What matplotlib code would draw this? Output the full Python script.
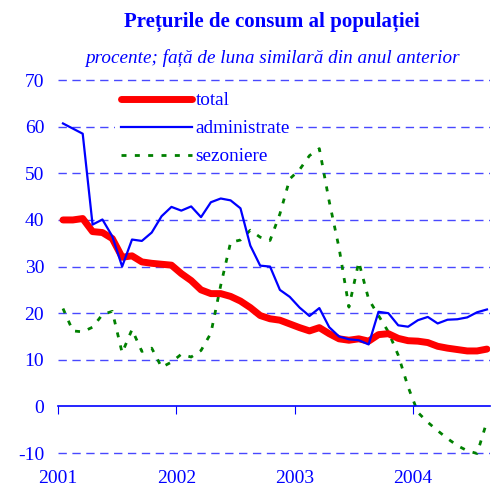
import pandas as pd
import matplotlib
matplotlib.use("Agg")
import matplotlib.pyplot as plt
import matplotlib.transforms as mtransforms

plt.rcParams["font.family"] = ["Liberation Serif", "DejaVu Serif"]
plt.rcParams["axes.unicode_minus"] = False

# monthly data, Jan 2001 - Aug 2004
months = pd.date_range("2001-01-01", periods=44, freq="MS")

total = [40.0, 40.0, 40.3, 37.5, 37.3, 36.0, 32.0, 32.3, 31.0, 30.7, 30.5, 30.3,
         28.5, 27.0, 25.0, 24.2, 24.2, 23.6, 22.6, 21.2, 19.5, 18.8, 18.5, 17.7,
         16.9, 16.2, 16.9, 15.6, 14.5, 14.2, 14.5, 14.0, 15.4, 15.6, 14.6, 14.1,
         14.0, 13.7, 12.9, 12.5, 12.2, 11.9, 11.9, 12.3]

administrate = [60.7, 59.6, 58.5, 39.0, 40.1, 36.5, 30.0, 35.8, 35.5, 37.3, 40.8, 42.8,
                42.0, 42.9, 40.6, 43.8, 44.6, 44.2, 42.5, 34.5, 30.2, 30.0, 25.0, 23.5,
                21.2, 19.4, 21.1, 17.0, 15.0, 14.4, 14.2, 13.3, 20.3, 20.0, 17.4, 17.1,
                18.5, 19.2, 17.8, 18.6, 18.7, 19.1, 20.2, 20.8]

sezoniere = [21.0, 16.2, 16.0, 17.0, 19.7, 20.4, 11.5, 16.5, 11.8, 12.5, 8.4, 9.5,
             11.2, 10.6, 12.0, 15.7, 26.0, 35.2, 35.7, 37.8, 36.3, 35.6, 41.3, 48.8,
             50.8, 53.8, 55.3, 44.0, 34.0, 21.3, 31.0, 23.0, 19.5, 16.0, 11.0, 4.2,
             -1.3, -3.4, -5.2, -6.9, -8.4, -9.5, -10.1, -3.2]

years = [2001, 2002, 2003, 2004]

x = [d.year + (d.month - 0.5) / 12 for d in months]

fig = plt.figure(figsize=(4.92, 4.86), dpi=100)
ax = fig.add_axes([0.118, 0.0582, 0.878, 0.7866])

for v in range(-10, 71, 10):
    if v == 0:
        continue
    ax.axhline(v, color="#4848ff", lw=1.0, dashes=(6, 4), zorder=1)

ax.plot(x, total, color="red", lw=5, label="total", zorder=3, solid_capstyle="round")
ax.plot(x, administrate, color="blue", lw=1.6, label="administrate", zorder=4)
ax.plot(x, sezoniere, color="green", lw=2.0, dashes=(1.8, 3.0), label="sezoniere", zorder=2)

ax.set_xlim(2001, 2004.651)
ax.set_ylim(-11, 71)

for s in ["left", "right", "top"]:
    ax.spines[s].set_visible(False)
ax.spines["bottom"].set_position(("data", 0))
ax.spines["bottom"].set_color("blue")
ax.spines["bottom"].set_linewidth(1.2)

ax.set_xticks(years)
ax.tick_params(axis="x", direction="out", length=6, color="blue", labelbottom=False)
ax.set_yticks(range(-10, 71, 10))
ax.tick_params(axis="y", length=0, pad=10, labelcolor="blue", labelsize=14)

trans = mtransforms.blended_transform_factory(ax.transData, ax.transAxes)
for yr in years:
    ax.text(yr, -0.055, str(yr), transform=trans, ha="center", va="center",
            color="blue", fontsize=14)

leg = ax.legend(loc="upper left", bbox_to_anchor=(0.11, 0.997), frameon=True,
                facecolor="white", edgecolor="none", framealpha=1,
                handlelength=3.7, handletextpad=0.2, labelspacing=0.55,
                fontsize=13.8, borderpad=0.3)
for t in leg.get_texts():
    t.set_color("blue")

fig.text(0.553, 0.955, "Prețurile de consum al populației", ha="center", va="center",
         color="blue", fontsize=15, fontweight="bold")
fig.text(0.553, 0.881, "procente; față de luna similară din anul anterior", ha="center",
         va="center", color="blue", fontsize=13.8, style="italic")

fig.savefig("out.png", dpi=100)
